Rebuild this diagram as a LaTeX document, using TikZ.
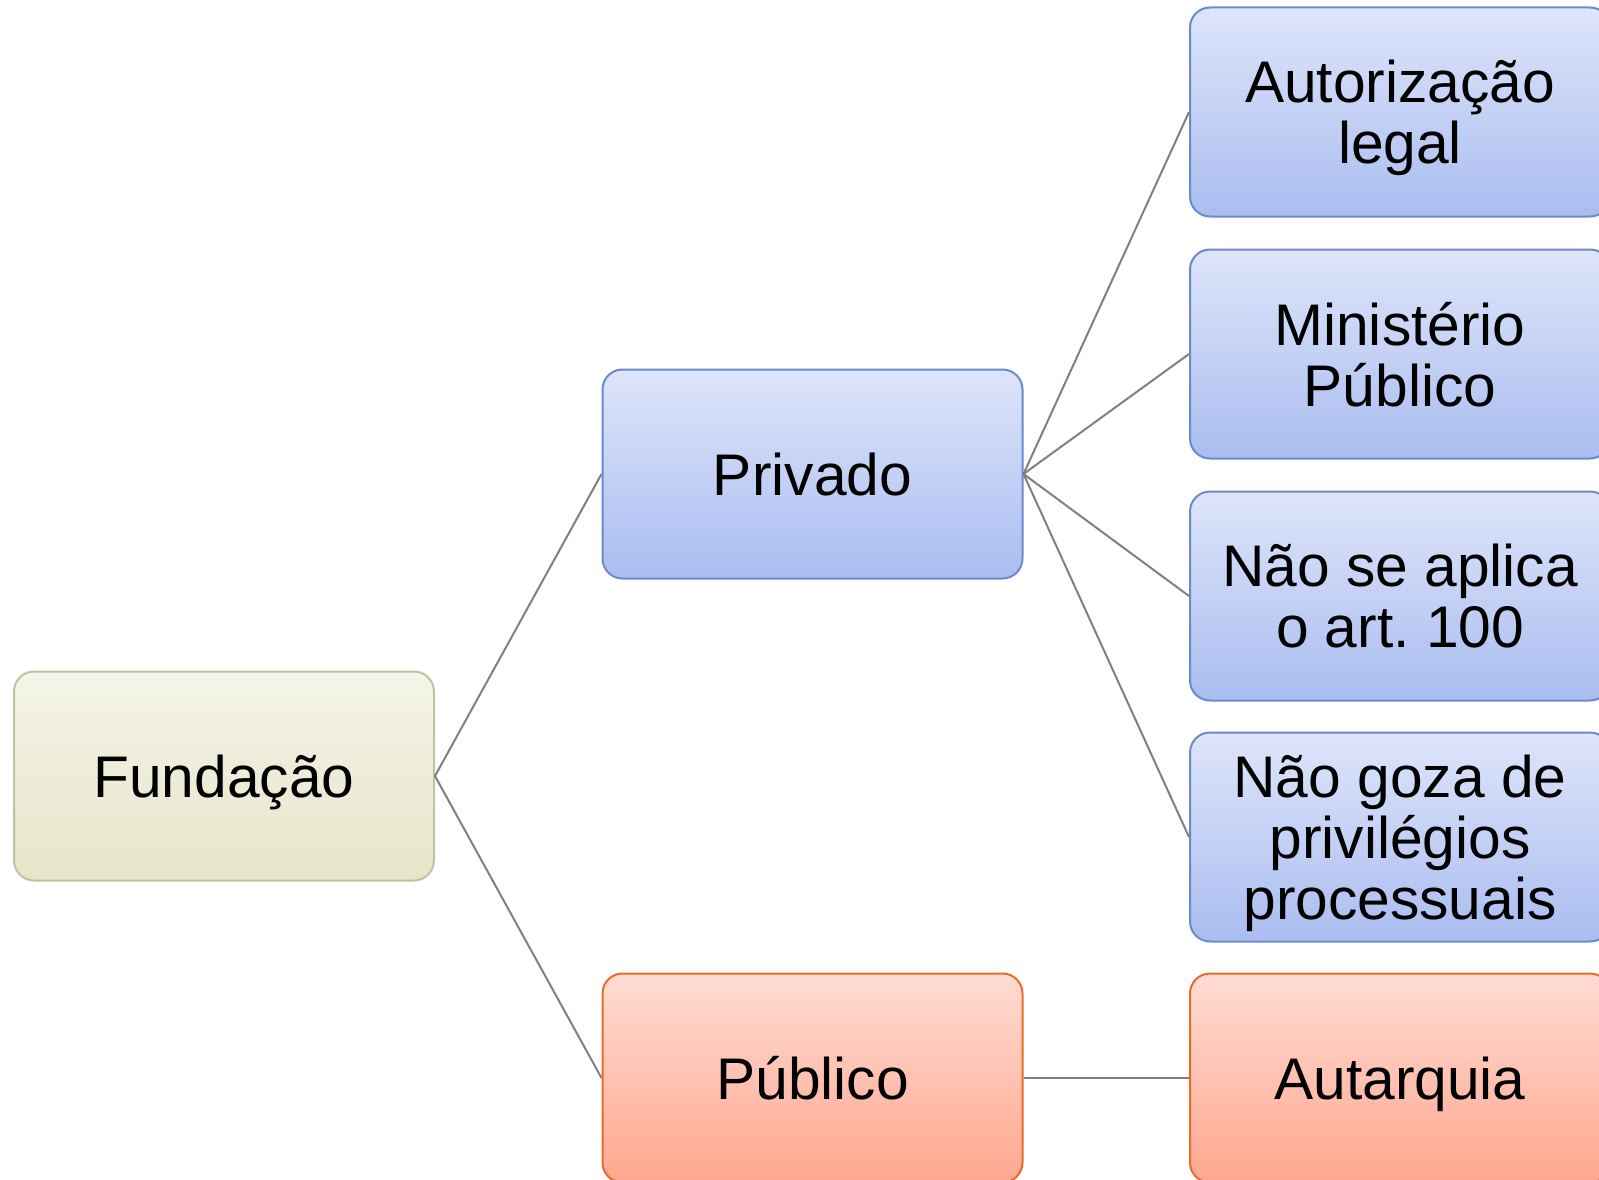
\documentclass[tikz,border=0pt]{standalone}
\usepackage{fontspec}
\setmainfont{Liberation Sans}
\frenchspacing
\definecolor{bluetop}{HTML}{DEE5FA}
\definecolor{bluebot}{HTML}{AABDF0}
\definecolor{blueedge}{HTML}{6B8AC9}
\definecolor{fundtop}{HTML}{F4F4E9}
\definecolor{fundbot}{HTML}{E7E5C8}
\definecolor{fundedge}{HTML}{C2C1A0}
\definecolor{redtop}{HTML}{FFDCD3}
\definecolor{redbot}{HTML}{FFA78F}
\definecolor{rededge}{HTML}{E86B28}
\definecolor{linkgray}{HTML}{808080}
\tikzset{
  box/.style={rounded corners=20pt, line width=2pt, minimum width=420pt, minimum height=209pt,
    inner sep=0pt, align=center, text depth=0pt, font=\fontsize{58.7}{61}\selectfont\frenchspacing, text=black},
  bluebox/.style={box, draw=blueedge, top color=bluetop, bottom color=bluebot},
  fundbox/.style={box, draw=fundedge, top color=fundtop, bottom color=fundbot},
  redbox/.style={box, draw=rededge, top color=redtop, bottom color=redbot},
  link/.style={draw=linkgray, line width=2pt}
}
\begin{document}
\begin{tikzpicture}[x=1pt,y=-1pt]
\useasboundingbox (0,0) rectangle (1599,1180);
\clip (0,0) rectangle (1599,1180);
\node[fundbox] (fund) at (224,776) {Fundação};
\node[bluebox] (priv) at (812.5,474) {Privado};
\node[redbox] (pub) at (812.5,1078) {Público};
\node[bluebox] (aut) at (1400,112) {Autorização\\legal};
\node[bluebox] (min) at (1400,354) {Ministério\\Público};
\node[bluebox] (nao) at (1400,596) {Não se aplica\\o art. 100};
\node[bluebox] (goz) at (1400,837) {Não goza de\\privilégios\\processuais};
\node[redbox] (autq) at (1400,1078) {Autarquia};
\draw[link] (fund.east) -- (priv.west);
\draw[link] (fund.east) -- (pub.west);
\draw[link] (priv.east) -- (aut.west);
\draw[link] (priv.east) -- (min.west);
\draw[link] (priv.east) -- (nao.west);
\draw[link] (priv.east) -- (goz.west);
\draw[link] (pub.east) -- (autq.west);
\end{tikzpicture}
\end{document}
